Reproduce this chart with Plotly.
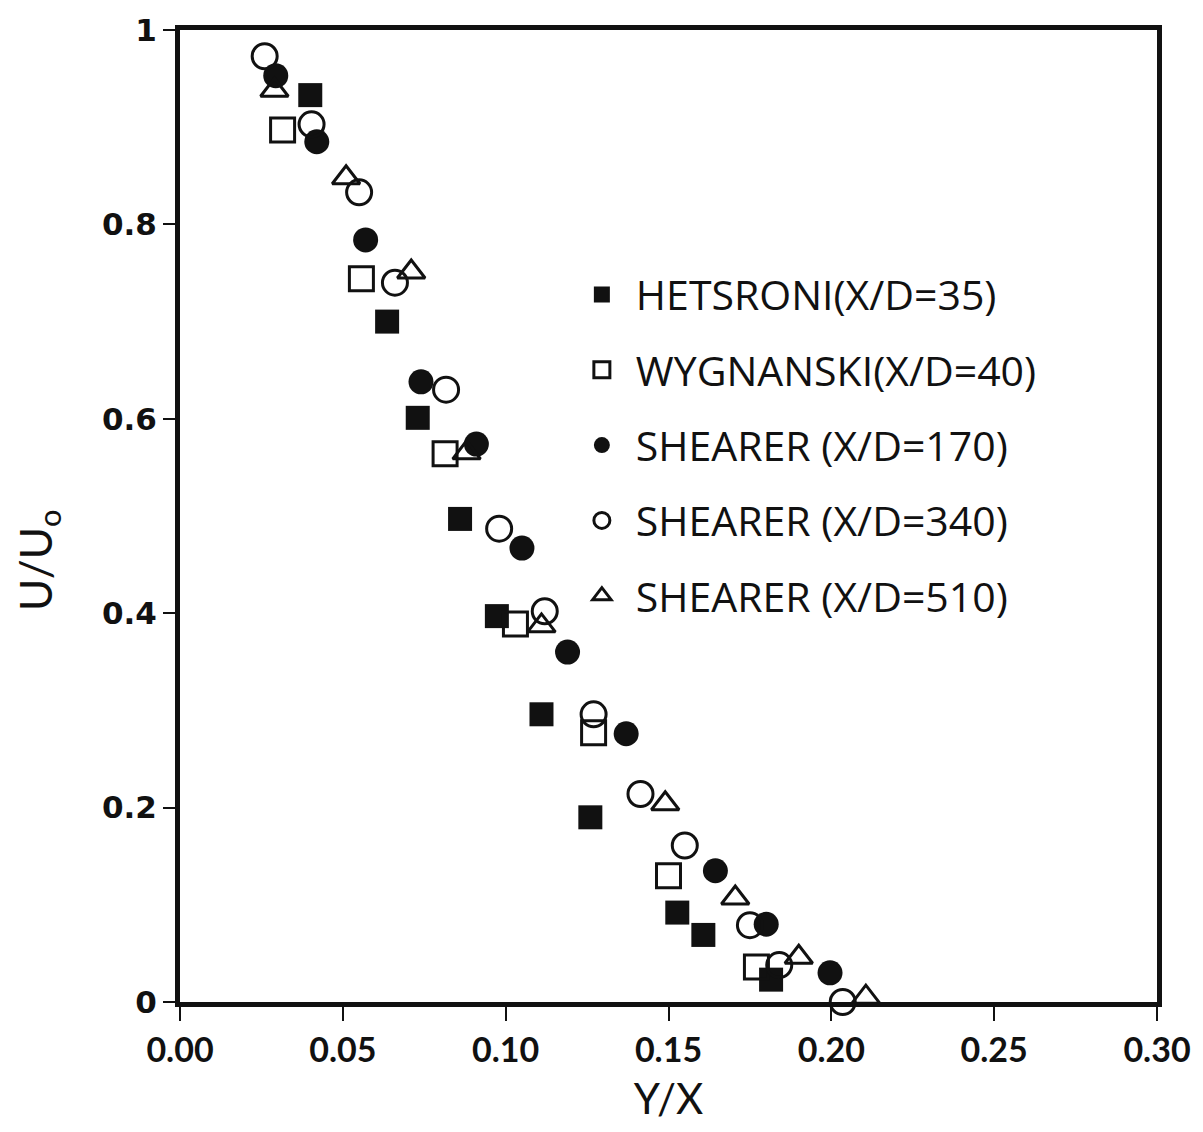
import plotly.graph_objects as go

# Hetsroni (X/D=35) - filled squares
het_x = [0.040, 0.0636, 0.073, 0.086, 0.0973, 0.111, 0.126, 0.1527, 0.1607, 0.1815]
het_y = [0.933, 0.700, 0.601, 0.497, 0.397, 0.296, 0.190, 0.092, 0.069, 0.023]
# Wygnanski (X/D=40) - open squares
wyg_x = [0.0315, 0.0557, 0.0814, 0.103, 0.127, 0.150, 0.177]
wyg_y = [0.897, 0.744, 0.564, 0.389, 0.277, 0.130, 0.036]
# Shearer (X/D=170) - filled circles
s170_x = [0.0294, 0.042, 0.057, 0.074, 0.091, 0.105, 0.119, 0.137, 0.1644, 0.180, 0.1996]
s170_y = [0.953, 0.885, 0.784, 0.638, 0.574, 0.467, 0.360, 0.276, 0.135, 0.080, 0.030]
# Shearer (X/D=340) - open circles
s340_x = [0.026, 0.0404, 0.055, 0.066, 0.0817, 0.098, 0.112, 0.127, 0.1414, 0.155, 0.175, 0.184, 0.2035]
s340_y = [0.973, 0.903, 0.833, 0.740, 0.630, 0.487, 0.402, 0.296, 0.214, 0.161, 0.079, 0.038, 0.000]
# Shearer (X/D=510) - open triangles
s510_x = [0.029, 0.051, 0.071, 0.088, 0.111, 0.149, 0.1705, 0.190, 0.2106]
s510_y = [0.938, 0.848, 0.751, 0.565, 0.387, 0.204, 0.107, 0.046, 0.005]

names = ["HETSRONI(X/D=35)", "WYGNANSKI(X/D=40)", "SHEARER (X/D=170)",
         "SHEARER (X/D=340)", "SHEARER (X/D=510)"]

x_ticks = [0.0, 0.05, 0.10, 0.15, 0.20, 0.25, 0.30]
x_labels = ["0.00", "0.05", "0.10", "0.15", "0.20", "0.25", "0.30"]
y_ticks = [0, 0.2, 0.4, 0.6, 0.8, 1.0]
y_labels = ["0", "0.2", "0.4", "0.6", "0.8", "1"]

ink = "#111111"
fig = go.Figure()

series = [
    (het_x, het_y, "square", ink, 24, 0),
    (wyg_x, wyg_y, "square-open", ink, 24, 3),
    (s170_x, s170_y, "circle", ink, 25, 0),
    (s340_x, s340_y, "circle-open", ink, 25, 3),
    (s510_x, s510_y, "triangle-up-open", ink, 24, 3),
]
for i, (xs, ys, sym, col, sz, lw) in enumerate(series):
    fig.add_trace(go.Scatter(
        x=xs, y=ys, mode="markers", name=names[i], legendgroup=str(i),
        marker=dict(symbol=sym, size=sz, color=col,
                    line=dict(width=lw, color=col)),
        cliponaxis=False,
    ))

fig.add_annotation(
    text="U/U<sub>o</sub>", xref="paper", yref="paper",
    x=-0.145, y=0.455, xanchor="center", yanchor="middle",
    textangle=-90, showarrow=False,
    font=dict(family="Lato", size=44, color=ink),
)

fig.update_layout(
    width=1203, height=1132,
    margin=dict(l=180, r=41, t=27, b=130),
    paper_bgcolor="white", plot_bgcolor="white",
    showlegend=True,
    legend=dict(
        x=0.397, y=0.762, xanchor="left", yanchor="top",
        bgcolor="rgba(0,0,0,0)", borderwidth=0,
        font=dict(family="Open Sans", size=41, color=ink),
        tracegroupgap=19, traceorder="grouped", itemwidth=58,
    ),
    xaxis=dict(
        range=[0, 0.30], tickvals=x_ticks, ticktext=x_labels,
        showgrid=False, zeroline=False,
        showline=True, linewidth=5, linecolor=ink, mirror=True,
        ticks="outside", ticklen=14, tickwidth=2, tickcolor=ink,
        tickfont=dict(family="Lato", size=34, color=ink, weight="bold"),
        title=dict(text="Y/X", font=dict(family="Lato", size=42, color=ink), standoff=18),
    ),
    yaxis=dict(
        range=[0, 1.0], tickvals=y_ticks, ticktext=y_labels,
        showgrid=False, zeroline=False,
        showline=True, linewidth=5, linecolor=ink, mirror=True,
        ticks="outside", ticklen=12, tickwidth=2, tickcolor=ink,
        tickfont=dict(family="DejaVu Sans", size=31, color=ink, weight="bold"),
    ),
)

fig.write_html("out.html")
